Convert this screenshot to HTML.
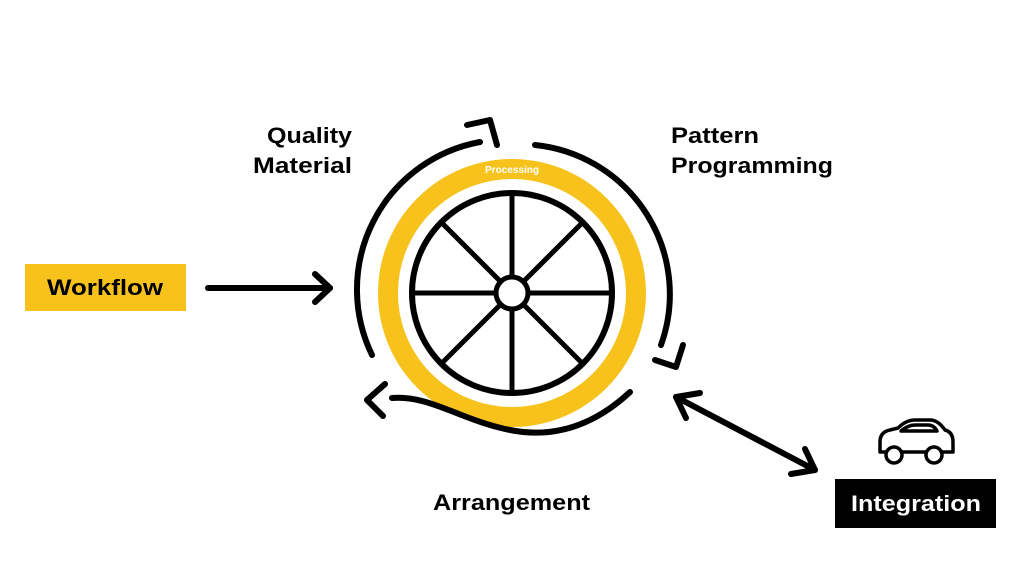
<!DOCTYPE html>
<html><head><style>
body{margin:0;width:1024px;height:576px;background:#fff;overflow:hidden;font-family:"Liberation Sans",sans-serif}
</style></head><body>
<svg width="1024" height="576" viewBox="0 0 1024 576" xmlns="http://www.w3.org/2000/svg">
<g fill="none" stroke="#000" stroke-linecap="round" stroke-linejoin="round">
<circle cx="512" cy="293" r="124" stroke="#f8c21c" stroke-width="20"/>
<circle cx="512" cy="293" r="100" stroke-width="6"/>
<g stroke-width="5">
<line x1="512" y1="193" x2="512" y2="393"/>
<line x1="412" y1="293" x2="612" y2="293"/>
<line x1="441" y1="222" x2="583" y2="364"/>
<line x1="583" y1="222" x2="441" y2="364"/>
</g>
<circle cx="512" cy="293" r="16" fill="#fff" stroke-width="5"/>
<g stroke-width="6">
<path d="M372 355 A150 150 0 0 1 480 142"/>
<path d="M467 125 L490 120 L497 145"/>
<path d="M535 145 A150 150 0 0 1 661 345"/>
<path d="M683 345 L676 367 L655 360"/>
<path d="M630 392 C600 420 560 440 510 430 C460 420 430 395 392 398"/>
<path d="M385 384 L367 400 L383 416"/>
<line x1="208" y1="288" x2="330" y2="288"/>
<path d="M315 274 L330 288 L315 302"/>
<line x1="676" y1="397" x2="815" y2="470"/>
<path d="M700 393 L676 397 L686 418"/>
<path d="M791 474 L815 470 L805 449"/>
</g>
<g stroke-width="3.5">
<path d="M880 452 L880 442 Q880 432 890 430 L898 428 Q906 420 915 420 L930 420 Q938 420 945 430 Q953 432 953 442 L953 452 Z" fill="#fff"/>
<path d="M901 431 Q908 425 915 425 L928 425 Q934 425 937 431 Z"/>
<circle cx="894" cy="455" r="8" fill="#fff"/>
<circle cx="934" cy="455" r="8" fill="#fff"/>
</g>
</g>
<rect x="25" y="264" width="161" height="47" fill="#f8c21c"/>
<rect x="835" y="479" width="161" height="49" fill="#000"/>
<g font-size="22" font-weight="bold" lengthAdjust="spacingAndGlyphs">
<text x="47" y="295" textLength="116" lengthAdjust="spacingAndGlyphs">Workflow</text>
<text x="851" y="511" textLength="130" lengthAdjust="spacingAndGlyphs" fill="#fff">Integration</text>
<text x="267" y="143" textLength="85" lengthAdjust="spacingAndGlyphs">Quality</text>
<text x="253" y="173" textLength="99" lengthAdjust="spacingAndGlyphs">Material</text>
<text x="671" y="143" textLength="88" lengthAdjust="spacingAndGlyphs">Pattern</text>
<text x="671" y="173" textLength="162" lengthAdjust="spacingAndGlyphs">Programming</text>
<text x="433" y="510" textLength="157" lengthAdjust="spacingAndGlyphs">Arrangement</text>
</g>
<text x="485" y="173" font-size="10" font-weight="bold" fill="#fff" textLength="54" lengthAdjust="spacingAndGlyphs">Processing</text>
</svg>
</body></html>
